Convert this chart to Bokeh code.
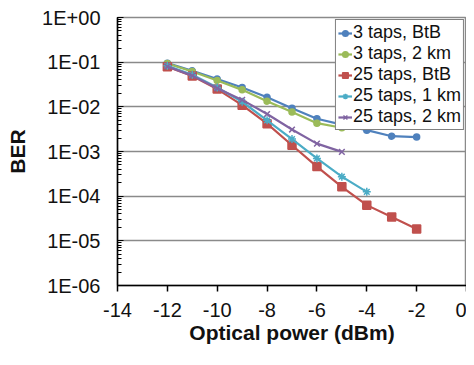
from bokeh.plotting import figure
from bokeh.models import CustomJSTickFormatter, FixedTicker, Range1d, Legend, LegendItem
from bokeh.embed import file_html
from bokeh.resources import INLINE

power = [-12, -11, -10, -9, -8, -7, -6, -5, -4, -3, -2]

taps3_btb = [0.095, 0.064, 0.042, 0.027, 0.0164, 0.0093, 0.0054, 0.0040, 0.0030, 0.0022, 0.0021]
taps3_2km = [0.093, 0.062, 0.039, 0.024, 0.0134, 0.0077, 0.0043, 0.0034]
taps25_btb = [0.079, 0.049, 0.025, 0.0109, 0.0042, 0.00138, 0.00046, 0.000162, 6.3e-5, 3.4e-5, 1.85e-5]
taps25_1km = [0.083, 0.052, 0.027, 0.013, 0.0050, 0.0019, 0.00070, 0.000273, 0.000125]
taps25_2km = [0.080, 0.050, 0.026, 0.0143, 0.0069, 0.0031, 0.0015, 0.00098]

labels = ["3 taps, BtB", "3 taps, 2 km", "25 taps, BtB", "25 taps, 1 km", "25 taps, 2 km"]
colors = ["#4F81BD", "#9BBB59", "#C0504D", "#4BACC6", "#8064A2"]
markers = ["circle", "circle", "square", "asterisk", "x"]
msizes = [6, 6, 8, 8, 8]
series = [taps3_btb, taps3_2km, taps25_btb, taps25_1km, taps25_2km]

x_ticks = [-14, -12, -10, -8, -6, -4, -2, 0]
y_ticks = [1e-6, 1e-5, 1e-4, 1e-3, 1e-2, 1e-1, 1]

FONT = "Liberation Sans"

p = figure(width=466, height=355, y_axis_type="log",
           x_range=Range1d(-14, 0), y_range=Range1d(1e-6, 1),
           output_backend="svg", toolbar_location=None,
           min_border_left=117, min_border_right=0, min_border_top=17, min_border_bottom=70)

p.background_fill_color = "white"
p.border_fill_color = "white"
p.outline_line_color = "#8a8a8a"
p.outline_line_width = 1.5

p.xgrid.grid_line_color = None
p.ygrid.grid_line_color = "#8a8a8a"
p.ygrid.grid_line_width = 1.5
p.ygrid.ticker = FixedTicker(ticks=y_ticks)

items = []
for vals, lab, col, mk, ms in zip(series, labels, colors, markers, msizes):
    xs = power[:len(vals)]
    r1 = p.line(xs, vals, line_color=col, line_width=2.2)
    r2 = p.scatter(xs, vals, marker=mk, size=ms, fill_color=col, line_color=col, line_width=1.5)
    items.append(LegendItem(label=lab, renderers=[r1, r2]))

legend = Legend(items=items, location="top_right")
legend.label_text_font = FONT
legend.label_text_font_size = "18px"
legend.label_text_color = "#111111"
legend.border_line_color = "black"
legend.border_line_width = 1.5
legend.background_fill_color = "white"
legend.background_fill_alpha = 1.0
legend.margin = 2
legend.padding = 2
legend.spacing = 0
legend.glyph_width = 14
legend.glyph_height = 20
legend.label_height = 20
legend.label_standoff = 1
p.add_layout(legend, "center")

xa = p.xaxis[0]
xa.ticker = FixedTicker(ticks=x_ticks)
xa.formatter = CustomJSTickFormatter(code="return tick.toString();")
xa.axis_label = "Optical power (dBm)"
xa.axis_label_text_font = FONT
xa.axis_label_text_font_style = "bold"
xa.axis_label_text_font_size = "21px"
xa.axis_label_text_color = "#111111"
xa.axis_label_standoff = 1
xa.major_label_text_font = FONT
xa.major_label_text_font_size = "20px"
xa.major_label_text_color = "#111111"
xa.major_label_standoff = 11
xa.major_tick_out = 6
xa.major_tick_in = 0
xa.minor_tick_out = 0
xa.minor_tick_in = 0
xa.axis_line_color = "black"
xa.axis_line_width = 1.5
xa.major_tick_line_width = 1.5

ya = p.yaxis[0]
ya.ticker.num_minor_ticks = 10
ya.formatter = CustomJSTickFormatter(code="""
const e = Math.round(Math.log10(tick));
const s = e >= 0 ? '+' : '-';
return '1E' + s + String(Math.abs(e)).padStart(2, '0');
""")
ya.axis_label = "BER"
ya.axis_label_text_font = FONT
ya.axis_label_text_font_style = "bold"
ya.axis_label_text_font_size = "21px"
ya.axis_label_text_color = "#111111"
ya.axis_label_standoff = 10
ya.major_label_text_font = FONT
ya.major_label_text_font_size = "20px"
ya.major_label_text_color = "#111111"
ya.major_label_standoff = 17
ya.major_tick_out = 0
ya.major_tick_in = 6
ya.minor_tick_out = 0
ya.minor_tick_in = 4
ya.axis_line_color = "black"
ya.axis_line_width = 1.5

open("out.html", "w").write(file_html(p, INLINE))
